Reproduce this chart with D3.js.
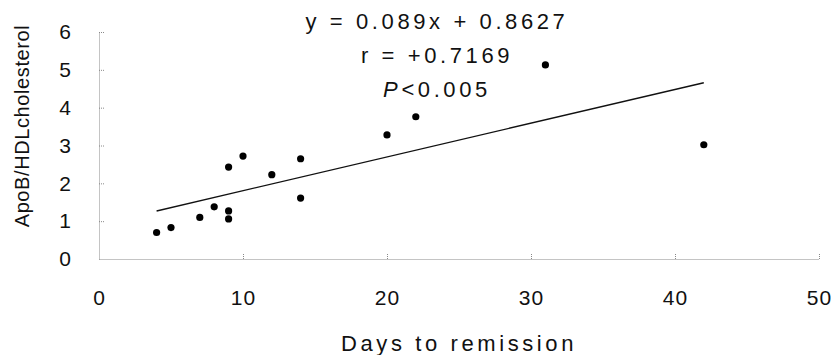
<!DOCTYPE html>
<html>
<head>
<meta charset="utf-8">
<script src="https://cdn.jsdelivr.net/npm/d3@7"></script>
<style>
  body { margin: 0; background: #fff; }
  text { font-family: "Liberation Sans", Arial, sans-serif; fill: #111; }
</style>
</head>
<body>
<div id="chart"></div>
<script>
// Days to remission vs ApoB/HDL cholesterol
const days = [4, 5, 7, 8, 9, 9, 9, 10, 12, 14, 14, 20, 22, 31, 42];
const ratio = [0.70, 0.83, 1.10, 1.38, 1.27, 1.06, 2.43, 2.72, 2.23, 2.65, 1.61, 3.28, 3.76, 5.13, 3.02];

// regression line ends as drawn
const fitX = [4, 42];
const fitY = [1.27, 4.66];

const xTicks = [0, 10, 20, 30, 40, 50];
const yTicks = [0, 1, 2, 3, 4, 5, 6];
const statLines = ["y = 0.089x + 0.8627", "r = +0.7169", "P<0.005"];

const width = 837;
const height = 355;

const svg = d3.select("#chart")
  .append("svg")
  .attr("width", width)
  .attr("height", height);

const x = d3.scaleLinear().domain([0, 50]).range([99, 819]);
const y = d3.scaleLinear().domain([0, 6]).range([259, 32]);

// axes, ticks pointing inward, labels pushed well away
const xAxis = svg.append("g")
  .attr("transform", `translate(0,${y(0)})`)
  .call(d3.axisBottom(x).tickValues(xTicks).tickFormat(d3.format("d"))
    .tickSizeInner(-6).tickSizeOuter(0).tickPadding(31));

const yAxis = svg.append("g")
  .attr("transform", `translate(${x(0)},0)`)
  .call(d3.axisLeft(y).tickValues(yTicks).tickFormat(d3.format("d"))
    .tickSizeInner(-5).tickSizeOuter(0).tickPadding(27));

[xAxis, yAxis].forEach(g => {
  g.select(".domain")
    .attr("stroke", "#888")
    .attr("stroke-dasharray", "1,1");
  g.selectAll(".tick line")
    .attr("stroke", "#888")
    .attr("stroke-dasharray", "1,1");
  g.selectAll(".tick text")
    .style("font-size", "21px")
    .style("letter-spacing", "1px")
    .attr("fill", "#111");
});
xAxis.selectAll(".tick").filter(d => d === 0).select("line").remove();
yAxis.selectAll(".tick").filter(d => d === 0).select("line").remove();

// regression line
svg.append("line")
  .attr("x1", x(fitX[0]))
  .attr("y1", y(fitY[0]))
  .attr("x2", x(fitX[1]))
  .attr("y2", y(fitY[1]))
  .attr("stroke", "#111")
  .attr("stroke-width", 1.4);

// points
svg.selectAll("circle.pt")
  .data(days.map((d, i) => [d, ratio[i]]))
  .enter()
  .append("circle")
  .attr("class", "pt")
  .attr("cx", d => x(d[0]))
  .attr("cy", d => y(d[1]))
  .attr("r", 3.6)
  .attr("fill", "#000");

// stats text
const stats = svg.append("g");
const statBase = [29, 63, 97];
statLines.forEach((s, i) => {
  const t = stats.append("text")
    .attr("x", 437)
    .attr("y", statBase[i])
    .attr("text-anchor", "middle")
    .style("font-size", "22px")
    .style("letter-spacing", "3.6px");
  if (s.startsWith("P")) {
    t.append("tspan").style("font-style", "italic").text("P");
    t.append("tspan").text(s.slice(1));
  } else {
    t.text(s);
  }
});

// axis titles
svg.append("text")
  .attr("x", 459)
  .attr("y", 351)
  .attr("text-anchor", "middle")
  .style("font-size", "22px")
  .style("letter-spacing", "3.6px")
  .text("Days to remission");

svg.append("text")
  .attr("transform", "translate(29,126) rotate(-90)")
  .attr("text-anchor", "middle")
  .style("font-size", "20px")
  .style("letter-spacing", "0.6px")
  .text("ApoB/HDLcholesterol");
</script>
</body>
</html>
